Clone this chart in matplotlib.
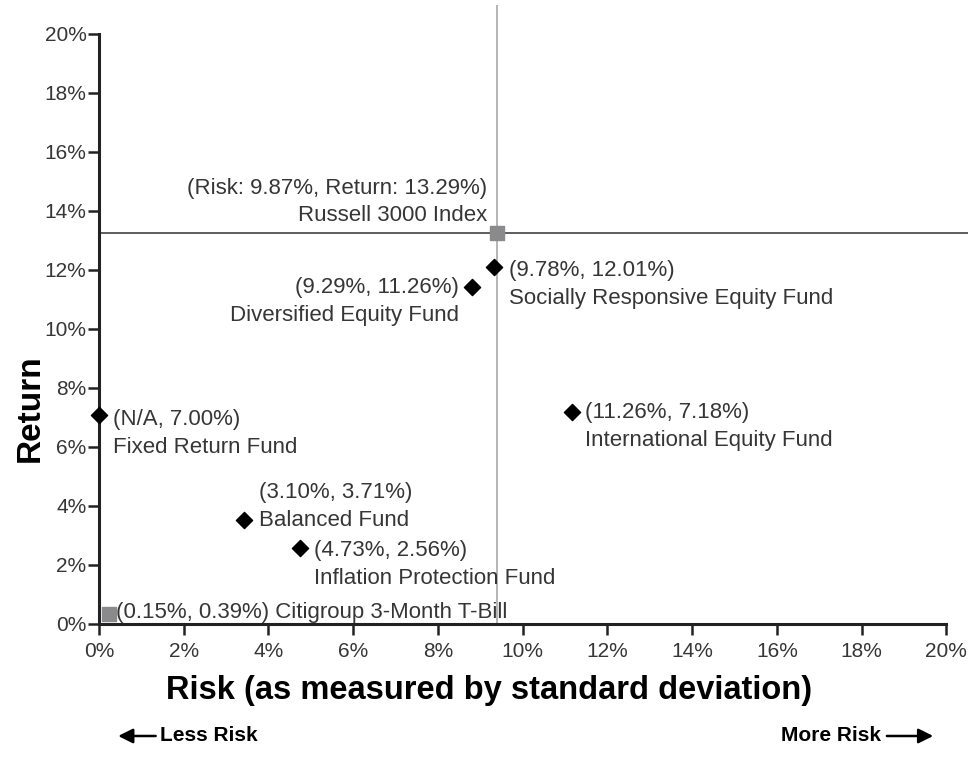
import matplotlib.pyplot as plt
from matplotlib.patches import FancyArrowPatch
from matplotlib.ticker import FuncFormatter

plt.rcParams['font.family'] = ['Liberation Sans', 'DejaVu Sans']

# fund positions as drawn (risk %, return %)
fund_names = ['Socially Responsive Equity Fund', 'Diversified Equity Fund',
              'International Equity Fund', 'Fixed Return Fund', 'Balanced Fund',
              'Inflation Protection Fund']
fund_risk = [9.32, 8.80, 11.16, 0.0, 3.42, 4.74]
fund_return = [12.10, 11.42, 7.20, 7.08, 3.53, 2.58]
fund_labels = ['(9.78%, 12.01%)', '(9.29%, 11.26%)', '(11.26%, 7.18%)',
               '(N/A, 7.00%)', '(3.10%, 3.71%)', '(4.73%, 2.56%)']

# benchmarks
bench_names = ['Russell 3000 Index', 'Citigroup 3-Month T-Bill']
bench_risk = [9.40, 0.24]
bench_return = [13.25, 0.34]
bench_labels = ['(Risk: 9.87%, Return: 13.29%)', '(0.15%, 0.39%)']

ticks = [0, 2, 4, 6, 8, 10, 12, 14, 16, 18, 20]

fig = plt.figure(figsize=(9.78, 7.78), dpi=100)
ax = fig.add_axes([0.1012, 0.198, 0.8885, 0.7956])
ax.set_xlim(0, 20.51)
ax.set_ylim(0, 20.98)

# crosshair through the Russell 3000
ax.axvline(bench_risk[0], color='#a8a8a8', lw=1.2, zorder=1)
ax.axhline(bench_return[0], color='#505050', lw=1.3, zorder=1)

ax.scatter(fund_risk, fund_return, marker='D', s=68, color='black', zorder=3,
           clip_on=False)
ax.scatter(bench_risk, bench_return, marker='s', s=90, color='#8a8a8c', zorder=3,
           clip_on=False)

txt = dict(fontsize=16, color='#363636', linespacing=1.43)

# fund labels
ax.annotate(fund_labels[0] + '\n' + fund_names[0], (fund_risk[0], fund_return[0]),
            xytext=(11, 5), textcoords='offset points', ha='left', va='top', **txt)
ax.annotate(fund_labels[1] + '\n' + fund_names[1], (fund_risk[1], fund_return[1]),
            xytext=(-9, 7), textcoords='offset points', ha='right', va='top',
            multialignment='right', **txt)
ax.annotate(fund_labels[2] + '\n' + fund_names[2], (fund_risk[2], fund_return[2]),
            xytext=(9.5, 7), textcoords='offset points', ha='left', va='top', **txt)
ax.annotate(fund_labels[3] + '\n' + fund_names[3], (fund_risk[3], fund_return[3]),
            xytext=(10, 4.5), textcoords='offset points', ha='left', va='top', **txt)
ax.annotate(fund_labels[4] + '\n' + fund_names[4], (fund_risk[4], fund_return[4]),
            xytext=(11, 27), textcoords='offset points', ha='left', va='top', **txt)
ax.annotate(fund_labels[5] + '\n' + fund_names[5], (fund_risk[5], fund_return[5]),
            xytext=(10, 5.5), textcoords='offset points', ha='left', va='top', **txt)

# benchmark labels
ax.annotate(bench_labels[0] + '\n' + bench_names[0], (bench_risk[0], bench_return[0]),
            xytext=(-7, 5), textcoords='offset points', ha='right', va='bottom',
            multialignment='right', linespacing=1.35, fontsize=16, color='#363636')
ax.annotate(bench_labels[1] + ' ' + bench_names[1], (bench_risk[1], bench_return[1]),
            xytext=(5, 8.5), textcoords='offset points', ha='left', va='top', **txt)

# axes styling
for side in ['top', 'right']:
    ax.spines[side].set_visible(False)
for side in ['left', 'bottom']:
    ax.spines[side].set_linewidth(2.2)
    ax.spines[side].set_color('#222222')
    ax.spines[side].set_bounds(0, 20)
ax.set_xticks(ticks)
ax.set_yticks(ticks)
pct = FuncFormatter(lambda v, p: '%d%%' % v)
ax.xaxis.set_major_formatter(pct)
ax.yaxis.set_major_formatter(pct)
ax.tick_params(axis='both', length=8, width=1.8, color='#222222',
               labelsize=15, labelcolor='#363636')
ax.tick_params(axis='x', pad=5)
ax.tick_params(axis='y', pad=1)

fig.text(0.031, 0.476, 'Return', rotation=90, ha='center', va='center',
         fontsize=24, fontweight='bold', color='black')

fig.text(0.500, 0.112, 'Risk (as measured by standard deviation)', ha='center',
         va='center', fontsize=23.5, fontweight='bold', color='black')
fig.text(0.164, 0.054, 'Less Risk', ha='left', va='center', fontsize=15,
         fontweight='bold', color='black')
fig.text(0.901, 0.054, 'More Risk', ha='right', va='center', fontsize=15,
         fontweight='bold', color='black')
arrow = dict(arrowstyle='-|>', color='black', lw=1.8, mutation_scale=22)
fig.add_artist(FancyArrowPatch((0.162, 0.054), (0.118, 0.054),
                               transform=fig.transFigure, **arrow))
fig.add_artist(FancyArrowPatch((0.904, 0.054), (0.957, 0.054),
                               transform=fig.transFigure, **arrow))

fig.savefig('out.png', dpi=100)
